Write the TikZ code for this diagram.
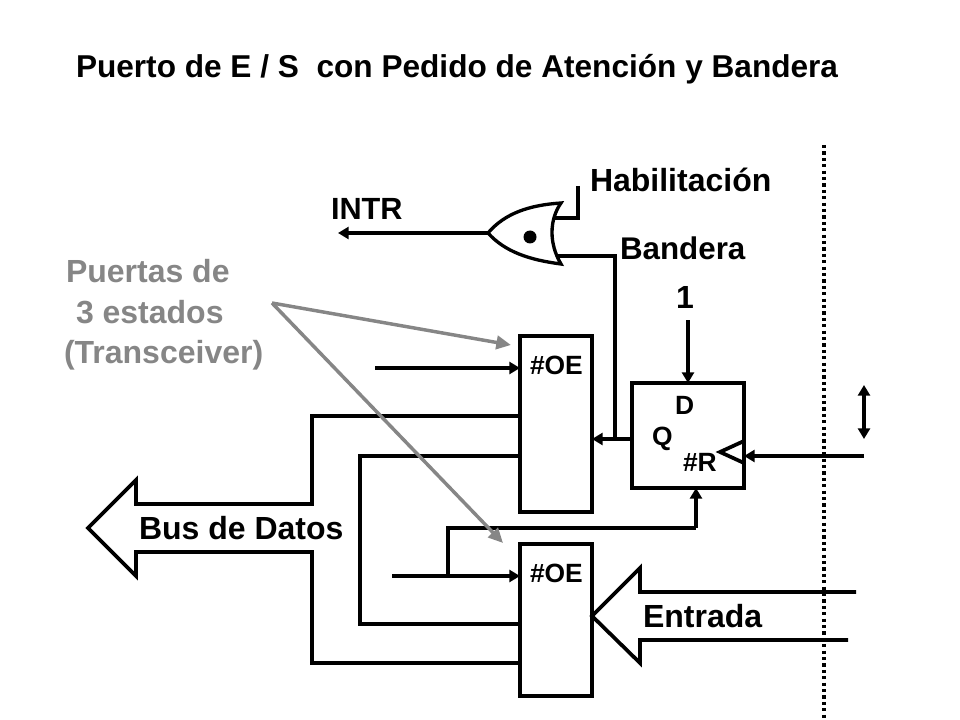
\documentclass[tikz,border=0pt]{standalone}
\usepackage{fontspec}
\setmainfont{Liberation Sans}
\usetikzlibrary{arrows.meta}
\tikzset{
  wire/.style={line width=2.8pt,line cap=butt,line join=miter,black},
  tipwire/.style={wire,-{Triangle[length=8pt,width=9pt]}},
  dbl/.style={wire,{Triangle[length=8pt,width=9pt]}-{Triangle[length=8pt,width=9pt]}},
  graywire/.style={line width=2.6pt,color=gray!95,-{Triangle[length=11pt,width=10pt]}},
  boxn/.style={draw,line width=2.8pt,inner sep=0pt,outer sep=0pt,anchor=north west,minimum width=54pt},
  lab/.style={anchor=base west,inner sep=0pt,outer sep=0pt,font=\bfseries\fontsize{24}{28}\selectfont},
  small/.style={anchor=base west,inner sep=0pt,outer sep=0pt,font=\bfseries\fontsize{19.8}{22}\selectfont},
  graylab/.style={lab,text=gray!95}
}
\begin{document}
\begin{tikzpicture}[x=0.75pt,y=-0.75pt]
\useasboundingbox (0,0) rectangle (960,720);
% boxes
\node[boxn,minimum height=132pt] (oea) at (520,336) {};
\node[boxn,minimum height=114pt] (oeb) at (520,544) {};
\node[boxn,minimum width=84pt,minimum height=78.75pt] (ff) at (632,383) {};
% gate
\coordinate (gout) at (488,233);
\coordinate (gina) at (554,218);
\coordinate (ginb) at (556,256);
\draw[line width=2.5pt,fill=white,line join=miter]
  (gout) .. controls (505,213) and (530,205) .. (561,203)
  .. controls (549,220) and (549,244) .. (561,264)
  .. controls (530,260) and (505,252) .. (gout) -- cycle;
\fill (530,237) circle (6.5);
% free ends
\coordinate (intr) at (338,233);
\coordinate (hab) at (578,186);
\coordinate (hc) at (578,218);
\coordinate (bc) at (615,256);
\coordinate (bq) at (615,439);
\coordinate (qp) at (632,439);
\coordinate (oeain) at (375,368);
\coordinate (oebin) at (392,576);
\coordinate (oebp) at (520,576);
\coordinate (br) at (448,576);
\coordinate (bu) at (448,528);
\coordinate (ru) at (696,528);
\coordinate (dtop) at (688,320);
\coordinate (clkin) at (864,456);
\coordinate (clkp) at (744,456);
% gate connectors
\draw[tipwire] (gout) -- (intr);
\draw[wire] (hab) -- (hc) -- (gina);
\draw[wire] (ginb) -- (bc) -- (bq);
% flip-flop
\draw[tipwire] (qp) -- (oea.east |- qp);
\draw[tipwire] (dtop) -- (dtop |- ff.north);
\draw[tipwire] (clkin) -- (clkp);
\draw[wire] (744,441) -- (720,452) -- (744,463);
% enables
\draw[tipwire] (oeain) -- (oea.west |- oeain);
\draw[tipwire] (oebin) -- (oebp);
\draw[wire] (br) -- (bu) -- (ru);
\draw[tipwire] (ru) -- (ru |- ff.south);
% bus
\draw[wire] (oea.west |- 0,416) -- (312,416) -- (312,504) -- (136,504) -- (136,480) -- (88,528) -- (136,576) -- (136,552) -- (312,552) -- (312,663) -- (oeb.west |- 0,663);
\draw[wire] (oea.west |- 0,456) -- (360,456) -- (360,624) -- (oeb.west |- 0,624);
% entrada
\draw[wire] (856,592) -- (640,592) -- (640,568) -- (oeb.east |- 0,616) -- (640,663) -- (640,640) -- (848,640);
% separator
\draw[line width=2.6pt,dash pattern=on 2.4pt off 2.4pt] (824,145) -- (824,718);
\draw[dbl] (864,385) -- (864,439);
% gray arrows
\coordinate (gs) at (272,303);
\coordinate (ga) at (511,345);
\coordinate (gb) at (503,543);
\draw[graywire] (gs) -- (ga);
\draw[graywire] (gs) -- (gb);
% texts
\node[lab,font=\bfseries\fontsize{23.7}{28}\selectfont] (title) at (76,78) {Puerto de E / S\ \ con Pedido de Atención y Bandera};
\node[lab] (thab) at (590,192) {Habilitación};
\node[lab,font=\bfseries\fontsize{23}{28}\selectfont] (tintr) at (331,220) {INTR};
\node[lab,font=\bfseries\fontsize{23.5}{28}\selectfont] (tban) at (620,260) {Bandera};
\node[lab] (tone) at (676,309) {1};
\node[graylab] (tp1) at (66,283) {Puertas de};
\node[graylab] (tp2) at (76,323) {3 estados};
\node[graylab] (tp3) at (64,363) {(Transceiver)};
\node[small] (toea) at (530,374) {\#OE};
\node[small] (toeb) at (530,582) {\#OE};
\node[small] (td) at (675,414) {D};
\node[small] (tq) at (652,445) {Q};
\node[small] (tr) at (683,471) {\#R};
\node[lab] (tbus) at (139,539) {Bus de Datos};
\node[lab] (tent) at (643,627) {Entrada};
\end{tikzpicture}
\end{document}
